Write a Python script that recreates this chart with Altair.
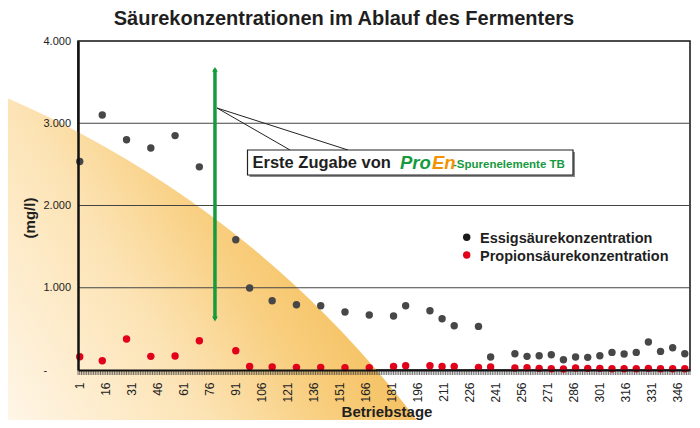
import altair as alt
import pandas as pd

# ---------------- data ----------------
DAYS = [1, 14, 28, 42, 56, 70, 91, 99, 112, 126, 140, 154, 168, 182, 189, 203, 210, 217,
        231, 238, 252, 259, 266, 273, 280, 287, 294, 301, 308, 315, 322, 329, 336, 343, 350]
ESSIG = [2535, 3100, 2800, 2700, 2850, 2470, 1583, 996, 842, 794, 781, 705, 668, 656, 781, 720,
         623, 538, 530, 158, 198, 166, 174, 186, 125, 158, 154, 174, 214, 194, 214, 340, 226,
         271, 198]
PROPION = [162, 113, 377, 166, 170, 356, 235, 44, 36, 32, 32, 28, 28, 44, 52, 52, 44, 44,
           32, 36, 24, 28, 20, 16, 12, 24, 20, 20, 16, 16, 16, 20, 16, 16, 16]

X_DOMAIN = [0, 353]
X_TICK_DAYS = list(range(0, 354))
X_LABEL_DAYS = [1, 16, 31, 46, 61, 76, 91, 106, 121, 136, 151, 166, 181, 196, 211, 226,
                241, 256, 271, 286, 301, 316, 331, 346]
Y_TICKS = [0, 1000, 2000, 3000, 4000]
Y_GRID = [1000, 2000, 3000]

ARROW_DAY = [79]
ARROW_TOP = [3655]
ARROW_BOTTOM = [620]

TITLE = "Säurekonzentrationen im Ablauf des Fermenters"
Y_TITLE = "(mg/l)"
X_TITLE = "Betriebstage"
SERIES = ["Essigsäurekonzentration", "Propionsäurekonzentration"]
BOX_TEXT = ["Erste Zugabe von", "Pro", "En", "-Spurenelemente TB"]

# ---------------- styles ----------------
SANS = "Liberation Sans, Arial, Helvetica, sans-serif"
GRAY_DOT = "#474747"
RED = "#E2001A"
GREEN = "#159A3E"
ORANGE = "#F39200"

ONE = pd.DataFrame({"k": [0]})
pts = pd.DataFrame({"day": DAYS, "essig": ESSIG, "propion": PROPION})
arrow = pd.DataFrame({"day": ARROW_DAY, "top": ARROW_TOP, "bottom": ARROW_BOTTOM})
ticks = pd.DataFrame({"day": X_TICK_DAYS})
xlabels = pd.DataFrame({"day": X_LABEL_DAYS, "label": [str(d) for d in X_LABEL_DAYS]})
grid = pd.DataFrame({"v": Y_GRID})

xs = alt.Scale(domain=X_DOMAIN, nice=False, zero=False)
ys = alt.Scale(domain=[0, 4000], nice=False)

x_axis = alt.Axis(
    values=X_LABEL_DAYS, labels=False, ticks=False, tickSize=0,
    domainColor="#111", domainWidth=2, grid=False, title=None, zindex=1,
)
y_axis = alt.Axis(
    values=Y_TICKS,
    labelExpr="datum.value == 0 ? '-' : replace(format(datum.value, ','), ',', '.')",
    labelAlign="left", labelPadding=35, ticks=False, tickSize=0,
    labelFont=SANS, labelFontSize=11, labelColor="#222",
    grid=False, domainColor="#111", domainWidth=2.5, title=None, zindex=1,
)

# background gradient shape (decorative)
grad = alt.LinearGradient(
    gradient="linear",
    stops=[alt.GradientStop(color="#FFF7EA", offset=0),
           alt.GradientStop(color="#FCE3B4", offset=0.5),
           alt.GradientStop(color="#F8CD7C", offset=0.8),
           alt.GradientStop(color="#F5C263", offset=1)],
    x1=0.389, y1=0.406, x2=0.6975, y2=0.2207,
)
bg = alt.Chart(ONE).mark_arc(theta=0, theta2=1.5708, radius=1018, fill=grad, strokeWidth=0).encode(
    x=alt.value(-474), y=alt.value(992)
)

grid_rules = alt.Chart(grid).mark_rule(color="#444", strokeWidth=1.2).encode(
    y=alt.Y("v:Q", scale=ys)
)
tick_rules = alt.Chart(ticks).mark_rule(color="#333", strokeWidth=0.7).encode(
    x=alt.X("day:Q", scale=xs), y=alt.value(329), y2=alt.value(334)
)
tick_labels = alt.Chart(xlabels).mark_text(
    angle=270, align="right", baseline="middle", font=SANS, fontSize=12, color="#222"
).encode(x=alt.X("day:Q", scale=xs), y=alt.value(341.5), text="label:N")

essig = alt.Chart(pts).mark_circle(size=55, color=GRAY_DOT, opacity=1).encode(
    x=alt.X("day:Q", scale=xs, axis=x_axis),
    y=alt.Y("essig:Q", scale=ys, axis=y_axis),
)
propion = alt.Chart(pts).mark_circle(size=55, color=RED, opacity=1).encode(
    x=alt.X("day:Q", scale=xs),
    y=alt.Y("propion:Q", scale=ys),
)

shaft = alt.Chart(arrow).mark_rule(color=GREEN, strokeWidth=3.5).encode(
    x=alt.X("day:Q", scale=xs), y=alt.Y("top:Q", scale=ys), y2="bottom:Q"
)
head_up = alt.Chart(arrow).mark_point(shape="triangle-up", filled=True, size=32, color=GREEN, opacity=1).encode(
    x=alt.X("day:Q", scale=xs), y=alt.Y("top:Q", scale=ys)
)
head_down = alt.Chart(arrow).mark_point(shape="triangle-down", filled=True, size=32, color=GREEN, opacity=1).encode(
    x=alt.X("day:Q", scale=xs), y=alt.Y("bottom:Q", scale=ys)
)

lead1 = alt.Chart(ONE).mark_rule(color="#222", strokeWidth=1).encode(
    x=alt.value(139), y=alt.value(67), x2=alt.value(212), y2=alt.value(109))
lead2 = alt.Chart(ONE).mark_rule(color="#222", strokeWidth=1).encode(
    x=alt.value(139), y=alt.value(67), x2=alt.value(270), y2=alt.value(109))

shadow = alt.Chart(ONE).mark_rect(color="#8a8a8a").encode(
    x=alt.value(171.5), x2=alt.value(497), y=alt.value(111), y2=alt.value(136))
box = alt.Chart(ONE).mark_rect(fill="white", stroke="#222", strokeWidth=1.2).encode(
    x=alt.value(169.5), x2=alt.value(495), y=alt.value(109), y2=alt.value(134))


def txt(text, x, y, size, font=SANS, weight="bold", color="#1f1f1f", align="left",
        baseline="alphabetic", angle=0, style="normal"):
    return alt.Chart(ONE).mark_text(
        text=text, font=font, fontSize=size, fontWeight=weight, color=color,
        align=align, baseline=baseline, angle=angle, fontStyle=style,
    ).encode(x=alt.value(x), y=alt.value(y))


texts = [
    txt(TITLE, 266, -16, 20, align="center"),
    txt(Y_TITLE, -48, 177, 15, align="center", baseline="middle", angle=270),
    txt(X_TITLE, 309, 376, 15, align="center"),
    txt(SERIES[0], 402, 201.5, 14.5),
    txt(SERIES[1], 402, 219.5, 14.5),
    txt(BOX_TEXT[0], 174.5, 127, 16.5),
    txt(BOX_TEXT[1], 322, 127.5, 18.5, color=GREEN, style="italic"),
    txt(BOX_TEXT[2], 354, 127.5, 18.5, color=ORANGE, style="italic"),
    txt(BOX_TEXT[3], 375, 126.5, 11.5, color=GREEN),
]

leg_black = alt.Chart(ONE).mark_circle(size=55, color="#1a1a1a", opacity=1).encode(
    x=alt.value(388.7), y=alt.value(196.3))
leg_red = alt.Chart(ONE).mark_circle(size=55, color=RED, opacity=1).encode(
    x=alt.value(388.7), y=alt.value(214))

chart = alt.layer(
    bg, grid_rules, tick_rules, tick_labels, essig, propion, shaft, head_up, head_down,
    lead1, lead2, shadow, box, leg_black, leg_red, *texts
).properties(
    width=612, height=329,
    autosize=alt.AutoSizeParams(type="none"),
    padding={"left": 70, "top": 33, "right": 2, "bottom": 50},
).configure_view(stroke="#111", strokeWidth=1.5)

chart.save("out.html", embed_options={"renderer": "svg", "actions": False})
